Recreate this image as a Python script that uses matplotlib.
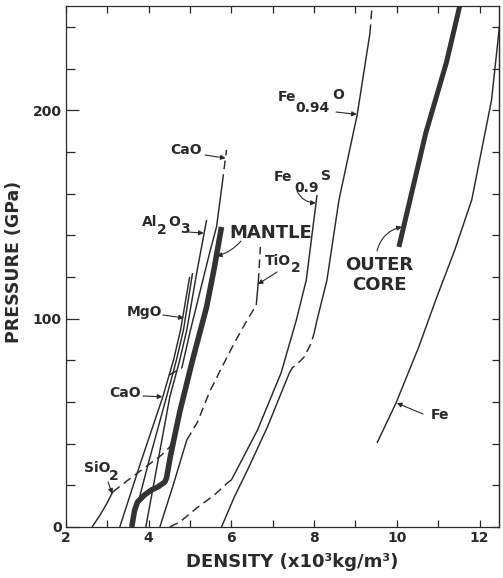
import matplotlib
matplotlib.use("Agg")
import matplotlib.pyplot as plt
from matplotlib.ticker import MultipleLocator, FixedLocator, NullLocator

# ---------------- data: density (10^3 kg/m^3) and pressure (GPa) ----------------
sio2_rho = [2.63, 2.80, 2.98, 3.13]
sio2_p = [0.0, 5.0, 11.0, 16.8]
sio2_mix_rho = [3.13, 3.50, 3.83, 4.31, 4.51, 4.67]
sio2_mix_p = [16.8, 22.5, 27.4, 34.5, 38.4, 45.6]

tio2_rho = [4.27, 4.59, 4.92]
tio2_p = [0.0, 20.0, 41.7]
tio2_mix_rho = [4.92, 5.18, 5.47, 5.76, 6.07, 6.34, 6.60]
tio2_mix_p = [41.7, 50.4, 64.8, 76.3, 88.3, 97.9, 106.5]
tio2_hp_rho = [6.60, 6.65]
tio2_hp_p = [106.5, 117.6]
tio2_top_rho = [6.65, 6.70]
tio2_top_p = [117.6, 134.4]

cao_b1_rho = [3.30, 3.81, 4.34, 4.60, 4.77, 4.99]
cao_b1_p = [0.0, 31.2, 62.4, 80.1, 94.5, 120.0]
cao_tr_rho = [4.49, 4.80]
cao_tr_p = [72.9, 76.3]
cao_b2_rho = [4.80, 5.01, 5.28, 5.49, 5.64, 5.78]
cao_b2_p = [76.3, 94.5, 116.1, 132.9, 144.0, 165.1]
cao_b2_top_rho = [5.78, 5.88]
cao_b2_top_p = [165.1, 180.9]

mgo_rho = [3.59, 4.00, 4.43, 4.67, 4.84, 5.06]
mgo_p = [0.0, 31.2, 62.4, 80.1, 94.5, 121.9]

al2o3_rho = [3.93, 4.22, 4.51, 4.75, 4.92, 5.16, 5.40]
al2o3_p = [0.0, 31.2, 62.4, 80.1, 94.5, 121.9, 147.3]

mantle_rho = [3.59, 3.66, 3.73, 3.90, 4.07, 4.22, 4.39, 4.43, 4.53, 4.75, 5.06, 5.40, 5.59, 5.76]
mantle_p = [0.0, 8.2, 12.0, 15.4, 17.8, 19.2, 21.6, 23.5, 34.5, 55.2, 80.1, 105.6, 124.8, 144.0]

fes_lo_rho = [4.51, 4.75, 5.16, 5.59, 5.90, 6.00]
fes_lo_p = [0.0, 2.4, 9.1, 15.4, 21.1, 22.6]
fes_rho = [6.00, 6.63, 7.20, 7.57, 7.81, 8.07]
fes_p = [22.6, 46.5, 73.9, 99.3, 118.5, 159.3]

feo_rho = [5.76, 6.07, 6.39, 6.87, 7.40]
feo_p = [0.0, 14.4, 27.4, 48.0, 73.9]
feo_tr_rho = [7.40, 7.47, 7.64, 7.76, 7.93, 8.00]
feo_tr_p = [73.9, 76.3, 79.2, 81.6, 88.3, 93.1]
feo_hp_rho = [8.00, 8.07, 8.31, 8.60, 9.04, 9.35]
feo_hp_p = [93.1, 99.3, 118.5, 156.9, 197.7, 237.0]
feo_top_rho = [9.35, 9.40]
feo_top_p = [237.0, 250.0]

fe_rho = [9.52, 9.98, 10.53, 10.94, 11.40, 11.81, 12.29, 12.48]
fe_p = [40.3, 59.5, 86.4, 108.9, 132.9, 156.9, 204.9, 240.0]

core_rho = [10.05, 10.70, 11.20, 11.52]
core_p = [134.4, 189.1, 223.0, 250.0]

x_ticks = [2, 4, 6, 8, 10, 12]
y_ticks = [0, 100, 200]

# ---------------- figure ----------------
W, H = 503, 578
plt.rcParams['font.family'] = ['DejaVu Sans']
plt.rcParams['font.weight'] = 'bold'
INK = '#2a2a2a'

fig = plt.figure(figsize=(W / 100, H / 100), dpi=100)
fig.patch.set_facecolor('white')
ax = fig.add_axes([66 / W, 1 - 527 / H, (499 - 66) / W, (527 - 6) / H])
ax.set_xlim(2, 12.47)
ax.set_ylim(0, 250)


def P(px, py):
    return (px / W, 1 - py / H)


def solid(x, y, lw=1.05):
    ax.plot(x, y, color=INK, lw=lw, solid_capstyle='butt', solid_joinstyle='round')


def dashed(x, y):
    ax.plot(x, y, color=INK, lw=1.05, dashes=(6, 3.5))


solid(sio2_rho, sio2_p)
dashed(sio2_mix_rho, sio2_mix_p)
solid(tio2_rho, tio2_p)
dashed(tio2_mix_rho, tio2_mix_p)
solid(tio2_hp_rho, tio2_hp_p)
dashed(tio2_top_rho, tio2_top_p)
solid(cao_b1_rho, cao_b1_p)
dashed(cao_tr_rho, cao_tr_p)
solid(cao_b2_rho, cao_b2_p)
dashed(cao_b2_top_rho, cao_b2_top_p)
solid(mgo_rho, mgo_p)
solid(al2o3_rho, al2o3_p)
dashed(fes_lo_rho, fes_lo_p)
solid(fes_rho, fes_p)
solid(feo_rho, feo_p)
dashed(feo_tr_rho, feo_tr_p)
solid(feo_hp_rho, feo_hp_p)
dashed(feo_top_rho, feo_top_p)
solid(fe_rho, fe_p)
ax.plot(mantle_rho, mantle_p, color='#333333', lw=4.0, solid_capstyle='butt', solid_joinstyle='round')
ax.plot(core_rho, core_p, color='#333333', lw=3.6, solid_capstyle='butt')

# ---------------- axes styling ----------------
for s in ax.spines.values():
    s.set_color(INK)
    s.set_linewidth(0.9)
ax.xaxis.set_major_locator(FixedLocator(x_ticks))
ax.xaxis.set_minor_locator(MultipleLocator(1))
ax.yaxis.set_major_locator(FixedLocator(y_ticks))
ax.yaxis.set_minor_locator(MultipleLocator(20))
ax.tick_params(axis='x', which='both', direction='in', top=True, bottom=True,
               length=5, width=0.9, color=INK, labelsize=10, labelcolor=INK, pad=3)
ax.tick_params(axis='y', which='major', direction='in', left=True, right=False,
               length=9, width=0.9, color=INK, labelsize=10, labelcolor=INK, pad=3)
ax.tick_params(axis='y', which='minor', direction='in', left=True, right=False,
               length=6.5, width=0.9, color=INK)
sec = ax.secondary_yaxis('right')
sec.yaxis.set_major_locator(MultipleLocator(20))
sec.yaxis.set_minor_locator(NullLocator())
sec.tick_params(direction='in', length=5, width=0.9, color=INK, labelright=False)
sec.spines['right'].set_color(INK)
sec.spines['right'].set_linewidth(0.9)

fig.text(*P(292, 562), 'DENSITY (x10³kg/m³)', ha='center', va='center',
         fontsize=13, fontweight='bold', color=INK)
fig.text(*P(14, 262), 'PRESSURE (GPa)', ha='center', va='center', rotation=90,
         fontsize=12.5, fontweight='bold', color=INK)

# ---------------- labels ----------------
small_labels = [
    ("CaO", 186, 150),
    ("Al", 150, 222), ("2", 162, 230), ("O", 174, 222), ("3", 185, 229),
    ("MgO", 145, 312),
    ("CaO", 125, 393),
    ("SiO", 97, 468), ("2", 114, 476),
    ("TiO", 278, 261), ("2", 296, 268),
    ("Fe", 283, 177), ("0.9", 307, 188), ("S", 326, 176),
    ("Fe", 287, 97), ("0.94", 313, 108), ("O", 338, 95),
    ("Fe", 440, 415),
]
for t, px, py in small_labels:
    fig.text(*P(px, py), t, ha='center', va='center', fontsize=10, fontweight='bold', color=INK)

big_labels = [("MANTLE", 271, 233), ("OUTER", 379, 265), ("CORE", 379, 285)]
for t, px, py in big_labels:
    fig.text(*P(px, py), t, ha='center', va='center', fontsize=13, fontweight='heavy',
             color=INK)

arrows = [
    ((205, 155), (5.86, 177.0), 0.0),
    ((188, 232), (5.33, 141.0), 0.0),
    ((163, 315), (4.85, 100.3), 0.0),
    ((143, 396), (4.33, 62.5), 0.0),
    ((108, 482), (3.12, 16.0), 0.0),
    ((277, 272), (6.64, 116.5), 0.0),
    ((297, 191), (8.04, 155.5), 0.3),
    ((336, 112), (9.03, 198.0), 0.0),
    ((423, 414), (10.00, 59.5), 0.0),
    ((241, 241), (5.65, 130.0), -0.15),
    ((377, 251), (10.12, 144.0), -0.3),
]
for (px, py), (tx, ty), rad in arrows:
    ax.annotate('', xy=(tx, ty), xycoords='data', xytext=P(px, py), textcoords='figure fraction',
                arrowprops=dict(arrowstyle='-|>', color=INK, lw=0.8, mutation_scale=7,
                                shrinkA=0, shrinkB=0, connectionstyle=f'arc3,rad={rad}'))

fig.savefig('out.png', dpi=100, facecolor='white')
